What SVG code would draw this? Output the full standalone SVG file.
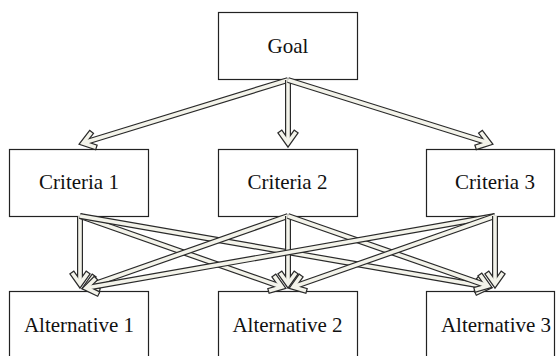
<svg xmlns="http://www.w3.org/2000/svg" width="556" height="356" viewBox="0 0 556 356">
<style>
.box{fill:#fff;stroke:#222;stroke-width:1.2}
.lbl{font-family:'Liberation Serif',serif;font-size:21px;fill:#111;text-anchor:middle}
.o{fill:none;stroke:#2a2a2a;stroke-width:6;stroke-linejoin:miter;marker-end:url(#ho)}
.f{fill:none;stroke:#f3f3ea;stroke-width:3.6;stroke-linejoin:miter;marker-end:url(#hf)}
</style>
<defs>
<marker id="ho" markerUnits="userSpaceOnUse" orient="auto" refX="0" refY="0" markerWidth="40" markerHeight="40" overflow="visible">
<path d="M-12,-8.5 L0,0 L-12,8.5" fill="none" stroke="#2a2a2a" stroke-width="6" stroke-linejoin="miter" stroke-miterlimit="10"/>
</marker>
<marker id="hf" markerUnits="userSpaceOnUse" orient="auto" refX="0" refY="0" markerWidth="40" markerHeight="40" overflow="visible">
<path d="M-11,-7.8 L0,0 L-11,7.8" fill="none" stroke="#f3f3ea" stroke-width="3.6" stroke-linejoin="miter" stroke-miterlimit="10"/>
</marker>
</defs>
<rect width="556" height="356" fill="#fff"/>
<g id="goal"><rect class="box" x="218.5" y="12.5" width="139" height="67"/><text class="lbl" font-family="Liberation Serif" x="288" y="53">Goal</text></g>
<g id="criteria1"><rect class="box" x="9.5" y="149.5" width="139" height="67"/><text class="lbl" font-family="Liberation Serif" x="79" y="189">Criteria 1</text></g>
<g id="criteria2"><rect class="box" x="218.5" y="149.5" width="139" height="67"/><text class="lbl" font-family="Liberation Serif" x="287.5" y="189">Criteria 2</text></g>
<g id="criteria3"><rect class="box" x="426.5" y="149.5" width="128" height="67"/><text class="lbl" font-family="Liberation Serif" x="495" y="189">Criteria 3</text></g>
<g id="alt1"><rect class="box" x="9.5" y="291.5" width="139" height="80"/><text class="lbl" font-family="Liberation Serif" x="79" y="332">Alternative 1</text></g>
<g id="alt2"><rect class="box" x="218.5" y="291.5" width="139" height="80"/><text class="lbl" font-family="Liberation Serif" x="287.5" y="332">Alternative 2</text></g>
<g id="alt3"><rect class="box" x="426.5" y="291.5" width="128" height="80"/><text class="lbl" font-family="Liberation Serif" x="496" y="332">Alternative 3</text></g>
<g id="connectors">
<g><path class="o" d="M288,80 L83,143"/><path class="f" d="M288,80 L83,143"/></g>
<g><path class="o" d="M288,80 L288,143"/><path class="f" d="M288,80 L288,143"/></g>
<g><path class="o" d="M288,80 L489,143"/><path class="f" d="M288,80 L489,143"/></g>
<g><path class="o" d="M80,216 L80,284"/><path class="f" d="M80,216 L80,284"/></g>
<g><path class="o" d="M80,216 L282,287"/><path class="f" d="M80,216 L282,287"/></g>
<g><path class="o" d="M80,216 L488,287"/><path class="f" d="M80,216 L488,287"/></g>
<g><path class="o" d="M288,216 L86,287"/><path class="f" d="M288,216 L86,287"/></g>
<g><path class="o" d="M288,216 L288,284"/><path class="f" d="M288,216 L288,284"/></g>
<g><path class="o" d="M288,216 L488,286"/><path class="f" d="M288,216 L488,286"/></g>
<g><path class="o" d="M495,216 L86,288"/><path class="f" d="M495,216 L86,288"/></g>
<g><path class="o" d="M495,216 L293,287"/><path class="f" d="M495,216 L293,287"/></g>
<g><path class="o" d="M495,216 L495,284"/><path class="f" d="M495,216 L495,284"/></g>
</g>
</svg>
